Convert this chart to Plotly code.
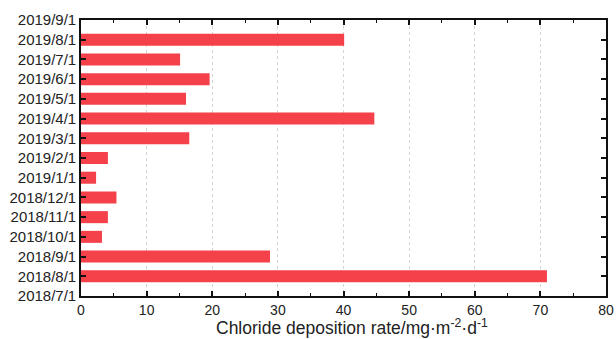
import plotly.graph_objects as go

# Monthly sampling dates (bottom to top) and chloride deposition rates
dates = ["2018/7/1", "2018/8/1", "2018/9/1", "2018/10/1", "2018/11/1", "2018/12/1",
         "2019/1/1", "2019/2/1", "2019/3/1", "2019/4/1", "2019/5/1", "2019/6/1",
         "2019/7/1", "2019/8/1", "2019/9/1"]
bar_dates = dates[1:-1]
rates = [71.0, 28.8, 3.2, 4.1, 5.4, 2.3, 4.1, 16.5, 44.7, 16.0, 19.6, 15.1, 40.1]
x_ticks = [0, 10, 20, 30, 40, 50, 60, 70, 80]
x_title = "Chloride deposition rate/mg·m<sup>-2</sup>·d<sup>-1</sup>"

positions = [dates.index(d) for d in bar_dates]

fig = go.Figure(go.Bar(
    x=rates,
    y=positions,
    orientation="h",
    width=0.61,
    marker=dict(color="#f5414a", line=dict(width=0)),
))

font_family = "Liberation Sans, Arial, sans-serif"

fig.update_layout(
    width=616, height=339,
    margin=dict(l=81, r=10, t=20, b=43),
    paper_bgcolor="white",
    plot_bgcolor="white",
    showlegend=False,
    font=dict(family=font_family, color="#222222"),
    xaxis=dict(
        range=[0, 80],
        tickvals=x_ticks,
        automargin=False,
        ticks="inside", ticklen=5, tickwidth=1.5, tickcolor="#111111",
        minor=dict(dtick=5, ticks="inside", ticklen=3, tickwidth=1.2, tickcolor="#111111", showgrid=False),
        showline=True, linecolor="#111111", linewidth=1.6, mirror="ticks",
        showgrid=True, gridcolor="#d4d4d4", griddash="3px,3px", gridwidth=1,
        zeroline=False,
        tickfont=dict(size=14, color="#222222"),
    ),
    yaxis=dict(
        range=[0, len(dates) - 1],
        tickvals=list(range(len(dates))),
        ticktext=dates,
        automargin=False,
        ticks="inside", ticklen=5, tickwidth=1.5, tickcolor="#111111",
        showline=True, linecolor="#111111", linewidth=1.6, mirror="ticks",
        showgrid=False, zeroline=False,
        tickfont=dict(size=15, color="#222222"),
    ),
    annotations=[dict(
        text=x_title,
        xref="paper", yref="paper",
        x=0.517, y=0, yshift=-31,
        xanchor="center", yanchor="middle",
        showarrow=False,
        font=dict(size=17.5, color="#222222"),
    )],
)

fig.write_html("out.html")
